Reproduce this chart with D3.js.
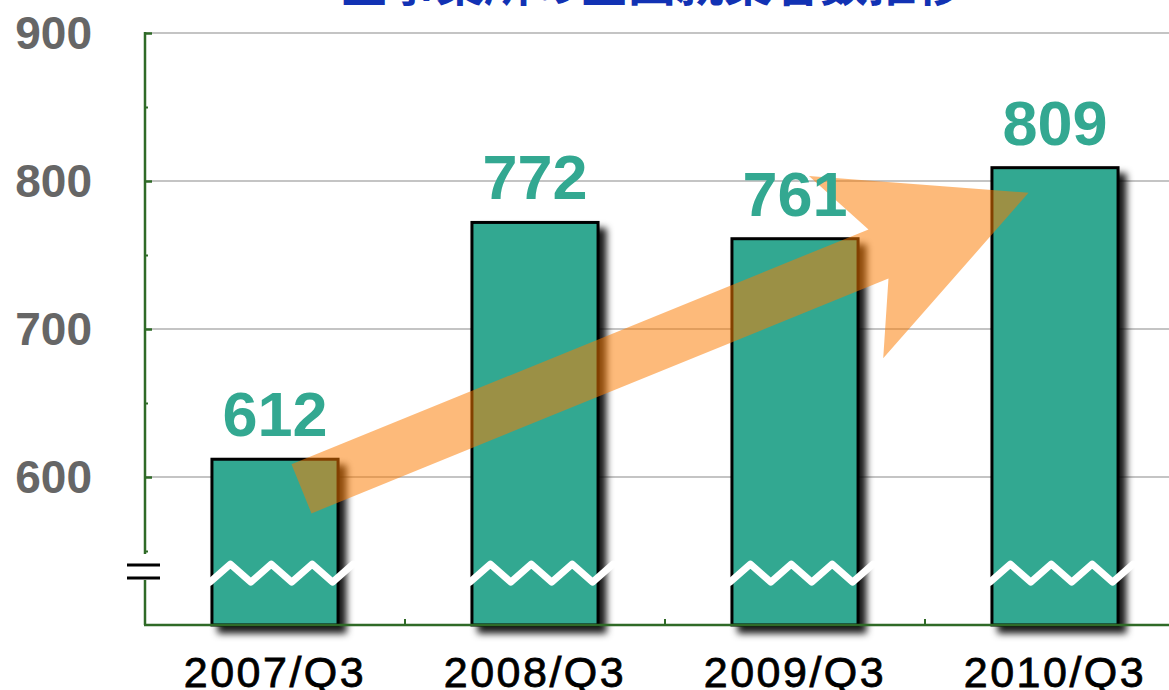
<!DOCTYPE html>
<html>
<head>
<meta charset="utf-8">
<script src="https://cdn.jsdelivr.net/npm/d3@7"></script>
<style>
  html, body { margin: 0; padding: 0; background: #ffffff; overflow: hidden; }
  svg { display: block; }
</style>
</head>
<body>
<script>
// ---- data ----
const titleText = "全事業所の全国就業者数推移";
const categories = ["2007/Q3", "2008/Q3", "2009/Q3", "2010/Q3"];
const values = [612, 772, 761, 809];
const yTickLabels = [600, 700, 800, 900];
const yMinorTicks = [550, 650, 750, 850];
const yDomain = [500, 900];
const breakValue = 535;

// ---- layout ----
const W = 1169, H = 690;
const teal = "#33a891";
const axisGreen = "#2f6a27";

const svg = d3.select("body").append("svg").attr("width", W).attr("height", H);

const defs = svg.append("defs");
const f = defs.append("filter").attr("id", "shadow")
  .attr("x", "-20%").attr("y", "-20%").attr("width", "150%").attr("height", "150%");
f.append("feDropShadow").attr("dx", 7).attr("dy", 7).attr("stdDeviation", 3.5)
  .attr("flood-color", "#000").attr("flood-opacity", 0.9);

const y = d3.scaleLinear().domain(yDomain).range([625, 33]);
const x = d3.scaleBand().domain(categories).range([145, 1185])
  .paddingInner(0.515).paddingOuter(0.2575);
const bw = x.bandwidth();

// title (mostly cut off at top)
svg.append("text")
  .attr("x", 652).attr("y", 1)
  .attr("text-anchor", "middle")
  .attr("font-family", "'Noto Sans CJK JP', sans-serif")
  .attr("font-weight", "bold")
  .attr("font-size", 48)
  .attr("fill", "#1232b4")
  .text(titleText);

// gridlines
svg.append("g").selectAll("line").data(yTickLabels).join("line")
  .attr("x1", 145).attr("x2", W)
  .attr("y1", d => y(d)).attr("y2", d => y(d))
  .attr("stroke", "#c4c4c4").attr("stroke-width", 2);

// bars
svg.append("g").selectAll("rect").data(values).join("rect")
  .attr("x", (d, i) => x(categories[i]))
  .attr("y", d => y(d))
  .attr("width", bw)
  .attr("height", d => y(yDomain[0]) - y(d))
  .attr("fill", teal)
  .attr("stroke", "#000")
  .attr("stroke-width", 3)
  .attr("filter", "url(#shadow)");

// break waves on bars
const yb = y(breakValue);
svg.append("g").selectAll("polyline").data(categories).join("polyline")
  .attr("points", c => {
    const x0 = x(c) - 2, span = bw + 17;
    return d3.range(8).map(k => [x0 + k * span / 7, yb + (k % 2 === 0 ? 9 : -9)].join(",")).join(" ");
  })
  .attr("fill", "none").attr("stroke", "#fff").attr("stroke-width", 7)
  .attr("stroke-linejoin", "round").attr("stroke-linecap", "round");

// trend arrow (from first bar to last bar)
(function () {
  const p0 = [x(categories[0]) + bw * 0.71, y(values[0] - 20)];
  const p1 = [x(categories[3]) + bw * 0.29, y(values[3] - 17)];
  const dx = p1[0] - p0[0], dy = p1[1] - p0[1];
  const L = Math.hypot(dx, dy);
  const ang = Math.atan2(dy, dx) * 180 / Math.PI;
  const sw = 26.5, hw = 98.5, hb = L - 197, notch = hb + 35;
  const pts = [[0, -sw], [notch, -sw], [hb, -hw], [L, 0], [hb, hw], [notch, sw], [0, sw]];
  svg.append("polygon")
    .attr("points", pts.map(p => p.join(",")).join(" "))
    .attr("transform", `translate(${p0[0]},${p0[1]}) rotate(${ang})`)
    .attr("fill", "#fb7b00").attr("fill-opacity", 0.52);
})();

// value labels
svg.append("g").selectAll("text").data(values).join("text")
  .attr("x", (d, i) => x(categories[i]) + bw / 2)
  .attr("y", d => y(d) - 23)
  .attr("text-anchor", "middle")
  .attr("font-family", "'Liberation Sans', Arial, sans-serif")
  .attr("font-weight", "bold")
  .attr("font-size", 63)
  .attr("fill", teal)
  .text(d => d);

// y axis line with break
const axisG = svg.append("g");
axisG.append("line").attr("x1", 145).attr("x2", 145).attr("y1", y(900) - 1).attr("y2", y(548))
  .attr("stroke", axisGreen).attr("stroke-width", 2.5);
axisG.append("line").attr("x1", 145).attr("x2", 145).attr("y1", 580).attr("y2", y(500))
  .attr("stroke", axisGreen).attr("stroke-width", 2.5);
// break marks
[565, 578].forEach(yy => {
  axisG.append("line").attr("x1", 127).attr("x2", 160).attr("y1", yy).attr("y2", yy)
    .attr("stroke", "#000").attr("stroke-width", 3);
});

// y ticks (inside)
const yAxisR = d3.axisRight(y).tickValues(yTickLabels).tickSize(7).tickFormat("");
const gR = svg.append("g").attr("transform", "translate(145,0)").call(yAxisR);
gR.select(".domain").remove();
gR.selectAll(".tick line").attr("stroke", axisGreen).attr("stroke-width", 2.5);
const yAxisMinor = d3.axisRight(y).tickValues(yMinorTicks).tickSize(3).tickFormat("");
const gM = svg.append("g").attr("transform", "translate(145,0)").call(yAxisMinor);
gM.select(".domain").remove();
gM.selectAll(".tick line").attr("stroke", axisGreen).attr("stroke-width", 2);

// y tick labels
const yAxisL = d3.axisLeft(y).tickValues(yTickLabels).tickSize(0).tickPadding(53);
const gL = svg.append("g").attr("transform", "translate(145,0)").call(yAxisL);
gL.select(".domain").remove();
gL.selectAll(".tick text")
  .attr("font-family", "'Liberation Sans', Arial, sans-serif")
  .attr("font-weight", "bold")
  .attr("font-size", 46)
  .attr("fill", "#666666")
  .attr("dy", "0.34em");

// x axis
const gx = svg.append("g").attr("transform", `translate(0,${y(500)})`);
gx.append("line").attr("x1", 144).attr("x2", W).attr("y1", 0).attr("y2", 0)
  .attr("stroke", axisGreen).attr("stroke-width", 2.5);
gx.selectAll(".btick").data(d3.range(1, categories.length)).join("line")
  .attr("class", "btick")
  .attr("x1", i => x(categories[i]) - x.step() * x.paddingInner() / 2)
  .attr("x2", i => x(categories[i]) - x.step() * x.paddingInner() / 2)
  .attr("y1", 0).attr("y2", -6)
  .attr("stroke", axisGreen).attr("stroke-width", 2);
const xAxis = d3.axisBottom(x).tickSize(0).tickPadding(0);
const gxa = svg.append("g").attr("transform", `translate(0,${y(500)})`).call(xAxis);
gxa.select(".domain").remove();
gxa.selectAll(".tick text")
  .attr("font-family", "'Liberation Sans', Arial, sans-serif")
  .attr("font-size", 43)
  .attr("letter-spacing", "2.5px")
  .attr("fill", "#000")
  .attr("stroke", "#000")
  .attr("stroke-width", 0.8)
  .attr("dy", 0)
  .attr("y", 62);
</script>
</body>
</html>
